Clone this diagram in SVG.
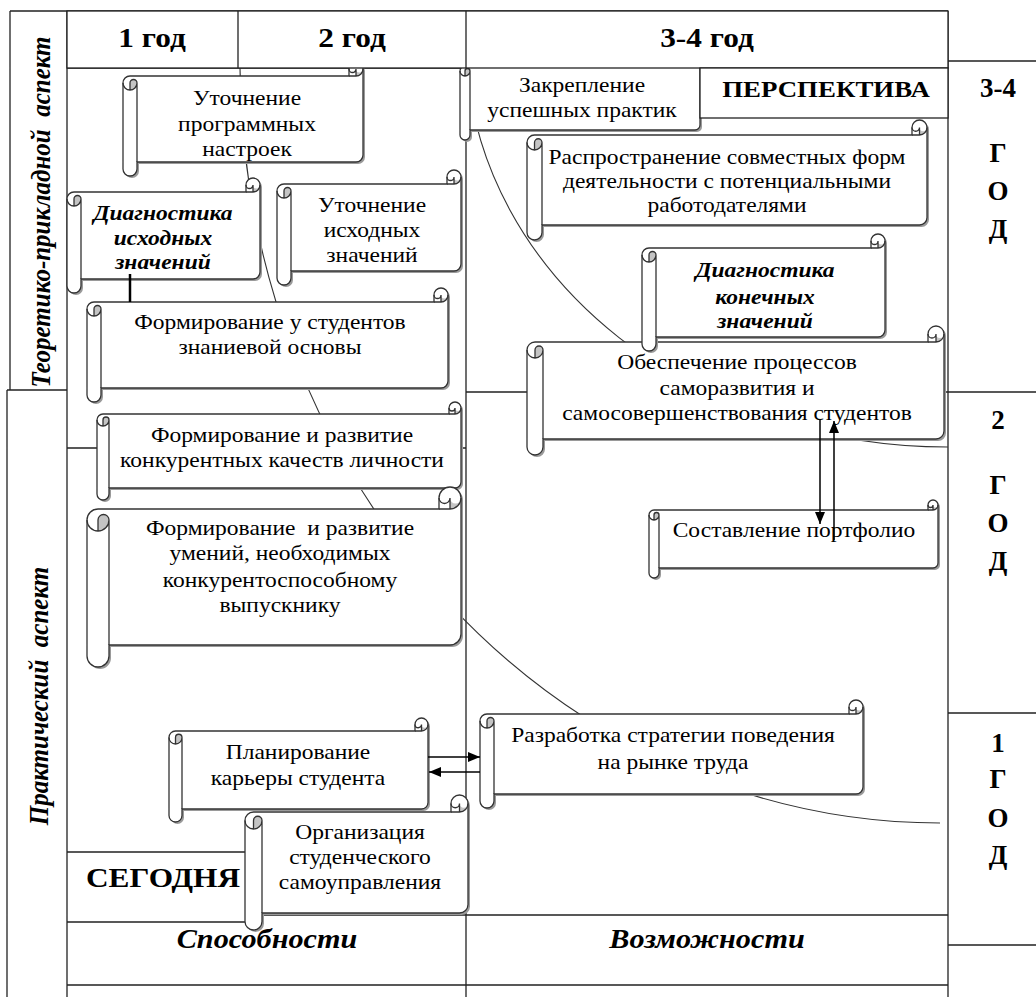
<svg xmlns="http://www.w3.org/2000/svg" xmlns:xlink="http://www.w3.org/1999/xlink" width="1036" height="997" viewBox="0 0 1036 997">
<style>
.bg{fill:#fff}
.grid{stroke:#222;stroke-width:1.3;fill:none}
.cell{fill:#fff;stroke:#222;stroke-width:1.3}
.curve{stroke:#333;stroke-width:1.1;fill:none}
.sh{fill:#9a9a9a}
.sc{fill:#fff;stroke:#333;stroke-width:1.3}
.sd{fill:none;stroke:#333;stroke-width:1.3}
.dk{fill:#c4c4c4}
.t{font-family:"Liberation Serif","Times New Roman",serif;font-size:21px;fill:#000;text-anchor:middle}
.bi{font-weight:bold;font-style:italic}
.hd{font-family:"Liberation Serif","Times New Roman",serif;font-size:28px;font-weight:bold;fill:#000;text-anchor:middle}
.side{font-family:"Liberation Serif","Times New Roman",serif;font-size:25px;font-weight:bold;font-style:italic;fill:#000;text-anchor:middle}
.arr{stroke:#000;stroke-width:1.5;fill:none}
</style>
<defs>
<marker id="ah" viewBox="0 0 12 10" refX="12" refY="5" markerWidth="12" markerHeight="10" markerUnits="userSpaceOnUse" orient="auto"><path d="M0,0 L12,5 L0,10 Z" fill="#000"/></marker>
<path id="o1" d="M0,21 A7 7 0 0 1 7,14 L226,14 L226,7 A7 7 0 0 1 240,7 L240,93 A7 7 0 0 1 233,100 L14,100 L14,107 A7 7 0 0 1 0,107 Z"/>
<path id="o2" d="M0,21 A7 7 0 0 1 7,14 L179,14 L179,7 A7 7 0 0 1 193,7 L193,94 A7 7 0 0 1 186,101 L14,101 L14,108 A7 7 0 0 1 0,108 Z"/>
<path id="o3" d="M0,21 A7 7 0 0 1 7,14 L170,14 L170,7 A7 7 0 0 1 184,7 L184,94 A7 7 0 0 1 177,101 L14,101 L14,108 A7 7 0 0 1 0,108 Z"/>
<path id="o4" d="M0,21 A7 7 0 0 1 7,14 L347,14 L347,7 A7 7 0 0 1 361,7 L361,93 A7 7 0 0 1 354,100 L14,100 L14,107 A7 7 0 0 1 0,107 Z"/>
<path id="o5" d="M0,18 A6 6 0 0 1 6,12 L352,12 L352,6 A6 6 0 0 1 364,6 L364,80 A6 6 0 0 1 358,86 L12,86 L12,92 A6 6 0 0 1 0,92 Z"/>
<path id="o6" d="M0,33 A11 11 0 0 1 11,22 L352,22 L352,11 A11 11 0 0 1 374,11 L374,147 A11 11 0 0 1 363,158 L22,158 L22,169 A11 11 0 0 1 0,169 Z"/>
<path id="o7" d="M0,15 A5 5 0 0 1 5,10 L230,10 L230,5 A5 5 0 0 1 240,5 L240,69 A5 5 0 0 1 235,74 L10,74 L10,79 A5 5 0 0 1 0,79 Z"/>
<path id="o8" d="M0,22.5 A7.5 7.5 0 0 1 7.5,15 L385,15 L385,7.5 A7.5 7.5 0 0 1 400,7.5 L400,97.5 A7.5 7.5 0 0 1 392.5,105 L15,105 L15,112.5 A7.5 7.5 0 0 1 0,112.5 Z"/>
<path id="o9" d="M0,21 A7 7 0 0 1 7,14 L229,14 L229,7 A7 7 0 0 1 243,7 L243,96 A7 7 0 0 1 236,103 L14,103 L14,110 A7 7 0 0 1 0,110 Z"/>
<path id="o10" d="M0,24 A8 8 0 0 1 8,16 L401,16 L401,8 A8 8 0 0 1 417,8 L417,105 A8 8 0 0 1 409,113 L16,113 L16,121 A8 8 0 0 1 0,121 Z"/>
<path id="o11" d="M0,15 A5 5 0 0 1 5,10 L279,10 L279,5 A5 5 0 0 1 289,5 L289,63 A5 5 0 0 1 284,68 L10,68 L10,73 A5 5 0 0 1 0,73 Z"/>
<path id="o12" d="M0,21 A7 7 0 0 1 7,14 L369,14 L369,7 A7 7 0 0 1 383,7 L383,87 A7 7 0 0 1 376,94 L14,94 L14,101 A7 7 0 0 1 0,101 Z"/>
<path id="o13" d="M0,19.5 A6.5 6.5 0 0 1 6.5,13 L246,13 L246,6.5 A6.5 6.5 0 0 1 259,6.5 L259,84.5 A6.5 6.5 0 0 1 252.5,91 L13,91 L13,97.5 A6.5 6.5 0 0 1 0,97.5 Z"/>
<path id="o14" d="M0,25.5 A8.5 8.5 0 0 1 8.5,17 L206,17 L206,8.5 A8.5 8.5 0 0 1 223,8.5 L223,109.5 A8.5 8.5 0 0 1 214.5,118 L17,118 L17,126.5 A8.5 8.5 0 0 1 0,126.5 Z"/>
</defs>
<rect class="bg" x="0" y="0" width="1036" height="997"/>

<g id="grid">
<path class="grid" d="M10,11 H948 M10,11 V390 M7,390 H67 M7,390 V997 M67,11 V997 M238,11 V68 M466,11 V997 M948,11 V997 M67,68 H948 M948,61 H1036 M466,392 H1036 M948,713 H1036 M948,945 H1036 M67,448 H466 M67,852 H245 M67,922 H245 M245,915 H948 M67,985 H948"/>
</g>

<g id="curves">
<path class="curve" d="M240,68 A700 763 0 0 0 940,823"/>
<path class="curve" d="M467,68 A482 407 0 0 0 948,447"/>
</g>

<g id="node-utochnenie-programm">
<g transform="translate(123 62)">
<use xlink:href="#o1" class="sh" x="2" y="2"/><use xlink:href="#o1" class="sc"/>
<path class="dk" d="M233,14 A7 7 0 0 0 240,7 A3.5 3.5 0 0 1 233,7 Z M7,28 A7 7 0 0 0 14,21 A3.5 3.5 0 0 0 7,21 Z"/>
<path class="sd" d="M226,14 L233,14 A7 7 0 0 0 240,7 M233,14 L233,7 A3.5 3.5 0 0 1 226,7 M7,28 L7,21 A3.5 3.5 0 0 1 14,21 A7 7 0 0 1 0,21 M14,21 L14,100"/>
</g>
<text class="t" transform="translate(247 0) scale(1.12 1)"><tspan x="0" y="105">Уточнение</tspan><tspan x="0" y="131">программных</tspan><tspan x="0" y="156">настроек</tspan></text>
</g>

<g id="node-diagnostika-ishod">
<g transform="translate(67 178)">
<use xlink:href="#o2" class="sh" x="2" y="2"/><use xlink:href="#o2" class="sc"/>
<path class="dk" d="M186,14 A7 7 0 0 0 193,7 A3.5 3.5 0 0 1 186,7 Z M7,28 A7 7 0 0 0 14,21 A3.5 3.5 0 0 0 7,21 Z"/>
<path class="sd" d="M179,14 L186,14 A7 7 0 0 0 193,7 M186,14 L186,7 A3.5 3.5 0 0 1 179,7 M7,28 L7,21 A3.5 3.5 0 0 1 14,21 A7 7 0 0 1 0,21 M14,21 L14,101"/>
</g>
<text class="t bi" transform="translate(163 0) scale(1.12 1)"><tspan x="0" y="220">Диагностика</tspan><tspan x="0" y="245">исходных</tspan><tspan x="0" y="269">значений</tspan></text>
</g>

<g id="node-utochnenie-ishod">
<g transform="translate(277 170)">
<use xlink:href="#o3" class="sh" x="2" y="2"/><use xlink:href="#o3" class="sc"/>
<path class="dk" d="M177,14 A7 7 0 0 0 184,7 A3.5 3.5 0 0 1 177,7 Z M7,28 A7 7 0 0 0 14,21 A3.5 3.5 0 0 0 7,21 Z"/>
<path class="sd" d="M170,14 L177,14 A7 7 0 0 0 184,7 M177,14 L177,7 A3.5 3.5 0 0 1 170,7 M7,28 L7,21 A3.5 3.5 0 0 1 14,21 A7 7 0 0 1 0,21 M14,21 L14,101"/>
</g>
<text class="t" transform="translate(372 0) scale(1.12 1)"><tspan x="0" y="212">Уточнение</tspan><tspan x="0" y="237">исходных</tspan><tspan x="0" y="262">значений</tspan></text>
</g>

<g id="node-znanievaya-osnova">
<g transform="translate(87 288)">
<use xlink:href="#o4" class="sh" x="2" y="2"/><use xlink:href="#o4" class="sc"/>
<path class="dk" d="M354,14 A7 7 0 0 0 361,7 A3.5 3.5 0 0 1 354,7 Z M7,28 A7 7 0 0 0 14,21 A3.5 3.5 0 0 0 7,21 Z"/>
<path class="sd" d="M347,14 L354,14 A7 7 0 0 0 361,7 M354,14 L354,7 A3.5 3.5 0 0 1 347,7 M7,28 L7,21 A3.5 3.5 0 0 1 14,21 A7 7 0 0 1 0,21 M14,21 L14,100"/>
</g>
<text class="t" transform="translate(270 0) scale(1.12 1)"><tspan x="0" y="329">Формирование у студентов</tspan><tspan x="0" y="354">знаниевой основы</tspan></text>
</g>

<g id="node-konkurentnye-kachestva">
<g transform="translate(97 402)">
<use xlink:href="#o5" class="sh" x="2" y="2"/><use xlink:href="#o5" class="sc"/>
<path class="dk" d="M358,12 A6 6 0 0 0 364,6 A3 3 0 0 1 358,6 Z M6,24 A6 6 0 0 0 12,18 A3 3 0 0 0 6,18 Z"/>
<path class="sd" d="M352,12 L358,12 A6 6 0 0 0 364,6 M358,12 L358,6 A3 3 0 0 1 352,6 M6,24 L6,18 A3 3 0 0 1 12,18 A6 6 0 0 1 0,18 M12,18 L12,86"/>
</g>
<text class="t" transform="translate(282 0) scale(1.12 1)"><tspan x="0" y="442">Формирование и развитие</tspan><tspan x="0" y="467">конкурентных качеств личности</tspan></text>
</g>

<g id="node-umeniya">
<g transform="translate(87 487)">
<use xlink:href="#o6" class="sh" x="2" y="2"/><use xlink:href="#o6" class="sc"/>
<path class="dk" d="M363,22 A11 11 0 0 0 374,11 A5.5 5.5 0 0 1 363,11 Z M11,44 A11 11 0 0 0 22,33 A5.5 5.5 0 0 0 11,33 Z"/>
<path class="sd" d="M352,22 L363,22 A11 11 0 0 0 374,11 M363,22 L363,11 A5.5 5.5 0 0 1 352,11 M11,44 L11,33 A5.5 5.5 0 0 1 22,33 A11 11 0 0 1 0,33 M22,33 L22,158"/>
</g>
<text class="t" transform="translate(280 0) scale(1.12 1)" xml:space="preserve"><tspan x="0" y="535">Формирование  и развитие</tspan><tspan x="0" y="560">умений, необходимых</tspan><tspan x="0" y="587">конкурентоспособному</tspan><tspan x="0" y="612">выпускнику</tspan></text>
</g>

<g id="node-zakreplenie">
<g transform="translate(460 56)">
<use xlink:href="#o7" class="sh" x="2" y="2"/><use xlink:href="#o7" class="sc"/>
<path class="dk" d="M235,10 A5 5 0 0 0 240,5 A2.5 2.5 0 0 1 235,5 Z M5,20 A5 5 0 0 0 10,15 A2.5 2.5 0 0 0 5,15 Z"/>
<path class="sd" d="M230,10 L235,10 A5 5 0 0 0 240,5 M235,10 L235,5 A2.5 2.5 0 0 1 230,5 M5,20 L5,15 A2.5 2.5 0 0 1 10,15 A5 5 0 0 1 0,15 M10,15 L10,74"/>
</g>
<text class="t" transform="translate(582 0) scale(1.12 1)"><tspan x="0" y="92">Закрепление</tspan><tspan x="0" y="117">успешных практик</tspan></text>
</g>

<g id="node-rasprostranenie">
<g transform="translate(527 120)">
<use xlink:href="#o8" class="sh" x="2" y="2"/><use xlink:href="#o8" class="sc"/>
<path class="dk" d="M392.5,15 A7.5 7.5 0 0 0 400,7.5 A3.75 3.75 0 0 1 392.5,7.5 Z M7.5,30 A7.5 7.5 0 0 0 15,22.5 A3.75 3.75 0 0 0 7.5,22.5 Z"/>
<path class="sd" d="M385,15 L392.5,15 A7.5 7.5 0 0 0 400,7.5 M392.5,15 L392.5,7.5 A3.75 3.75 0 0 1 385,7.5 M7.5,30 L7.5,22.5 A3.75 3.75 0 0 1 15,22.5 A7.5 7.5 0 0 1 0,22.5 M15,22.5 L15,105"/>
</g>
<text class="t" transform="translate(727 0) scale(1.12 1)"><tspan x="0" y="164">Распространение совместных форм</tspan><tspan x="0" y="188">деятельности с потенциальными</tspan><tspan x="0" y="212">работодателями</tspan></text>
</g>

<g id="node-obespechenie">
<g transform="translate(527 326)">
<use xlink:href="#o10" class="sh" x="2" y="2"/><use xlink:href="#o10" class="sc"/>
<path class="dk" d="M409,16 A8 8 0 0 0 417,8 A4 4 0 0 1 409,8 Z M8,32 A8 8 0 0 0 16,24 A4 4 0 0 0 8,24 Z"/>
<path class="sd" d="M401,16 L409,16 A8 8 0 0 0 417,8 M409,16 L409,8 A4 4 0 0 1 401,8 M8,32 L8,24 A4 4 0 0 1 16,24 A8 8 0 0 1 0,24 M16,24 L16,113"/>
</g>
<text class="t" transform="translate(737 0) scale(1.12 1)"><tspan x="0" y="369">Обеспечение процессов</tspan><tspan x="0" y="395">саморазвития и</tspan><tspan x="0" y="420">самосовершенствования студентов</tspan></text>
</g>

<g id="node-diagnostika-konech">
<g transform="translate(642 234)">
<use xlink:href="#o9" class="sh" x="2" y="2"/><use xlink:href="#o9" class="sc"/>
<path class="dk" d="M236,14 A7 7 0 0 0 243,7 A3.5 3.5 0 0 1 236,7 Z M7,28 A7 7 0 0 0 14,21 A3.5 3.5 0 0 0 7,21 Z"/>
<path class="sd" d="M229,14 L236,14 A7 7 0 0 0 243,7 M236,14 L236,7 A3.5 3.5 0 0 1 229,7 M7,28 L7,21 A3.5 3.5 0 0 1 14,21 A7 7 0 0 1 0,21 M14,21 L14,103"/>
</g>
<text class="t bi" transform="translate(765 0) scale(1.12 1)"><tspan x="0" y="277">Диагностика</tspan><tspan x="0" y="304">конечных</tspan><tspan x="0" y="328">значений</tspan></text>
</g>

<g id="node-portfolio">
<g transform="translate(649 500)">
<use xlink:href="#o11" class="sh" x="2" y="2"/><use xlink:href="#o11" class="sc"/>
<path class="dk" d="M284,10 A5 5 0 0 0 289,5 A2.5 2.5 0 0 1 284,5 Z M5,20 A5 5 0 0 0 10,15 A2.5 2.5 0 0 0 5,15 Z"/>
<path class="sd" d="M279,10 L284,10 A5 5 0 0 0 289,5 M284,10 L284,5 A2.5 2.5 0 0 1 279,5 M5,20 L5,15 A2.5 2.5 0 0 1 10,15 A5 5 0 0 1 0,15 M10,15 L10,68"/>
</g>
<text class="t" transform="translate(794 0) scale(1.12 1)"><tspan x="0" y="537">Составление портфолио</tspan></text>
</g>

<g id="node-strategiya">
<g transform="translate(480 700)">
<use xlink:href="#o12" class="sh" x="2" y="2"/><use xlink:href="#o12" class="sc"/>
<path class="dk" d="M376,14 A7 7 0 0 0 383,7 A3.5 3.5 0 0 1 376,7 Z M7,28 A7 7 0 0 0 14,21 A3.5 3.5 0 0 0 7,21 Z"/>
<path class="sd" d="M369,14 L376,14 A7 7 0 0 0 383,7 M376,14 L376,7 A3.5 3.5 0 0 1 369,7 M7,28 L7,21 A3.5 3.5 0 0 1 14,21 A7 7 0 0 1 0,21 M14,21 L14,94"/>
</g>
<text class="t" transform="translate(673 0) scale(1.12 1)"><tspan x="0" y="742">Разработка стратегии поведения</tspan><tspan x="0" y="769">на рынке труда</tspan></text>
</g>

<g id="node-planirovanie">
<g transform="translate(169 718)">
<use xlink:href="#o13" class="sh" x="2" y="2"/><use xlink:href="#o13" class="sc"/>
<path class="dk" d="M252.5,13 A6.5 6.5 0 0 0 259,6.5 A3.25 3.25 0 0 1 252.5,6.5 Z M6.5,26 A6.5 6.5 0 0 0 13,19.5 A3.25 3.25 0 0 0 6.5,19.5 Z"/>
<path class="sd" d="M246,13 L252.5,13 A6.5 6.5 0 0 0 259,6.5 M252.5,13 L252.5,6.5 A3.25 3.25 0 0 1 246,6.5 M6.5,26 L6.5,19.5 A3.25 3.25 0 0 1 13,19.5 A6.5 6.5 0 0 1 0,19.5 M13,19.5 L13,91"/>
</g>
<text class="t" transform="translate(298 0) scale(1.12 1)"><tspan x="0" y="759">Планирование</tspan><tspan x="0" y="785">карьеры студента</tspan></text>
</g>

<g id="node-samoupravlenie">
<g transform="translate(245 795)">
<use xlink:href="#o14" class="sh" x="2" y="2"/><use xlink:href="#o14" class="sc"/>
<path class="dk" d="M214.5,17 A8.5 8.5 0 0 0 223,8.5 A4.25 4.25 0 0 1 214.5,8.5 Z M8.5,34 A8.5 8.5 0 0 0 17,25.5 A4.25 4.25 0 0 0 8.5,25.5 Z"/>
<path class="sd" d="M206,17 L214.5,17 A8.5 8.5 0 0 0 223,8.5 M214.5,17 L214.5,8.5 A4.25 4.25 0 0 1 206,8.5 M8.5,34 L8.5,25.5 A4.25 4.25 0 0 1 17,25.5 A8.5 8.5 0 0 1 0,25.5 M17,25.5 L17,118"/>
</g>
<text class="t" transform="translate(360 0) scale(1.12 1)"><tspan x="0" y="839">Организация</tspan><tspan x="0" y="864">студенческого</tspan><tspan x="0" y="889">самоуправления</tspan></text>
</g>

<g id="header">
<rect class="cell" x="67" y="11" width="881" height="57"/>
<path class="grid" d="M238,11 V68 M466,11 V68"/>
<text class="hd" transform="translate(152 0) scale(1.12 1)"><tspan x="0" y="47">1 год</tspan></text>
<text class="hd" transform="translate(352 0) scale(1.12 1)"><tspan x="0" y="47">2 год</tspan></text>
<text class="hd" transform="translate(707 0) scale(1.12 1)"><tspan x="0" y="47">3-4 год</tspan></text>
</g>

<g id="perspektiva">
<rect class="cell" x="700" y="68" width="248" height="50"/>
<text class="hd" style="font-size:24px" transform="translate(826 0) scale(1.12 1)"><tspan x="0" y="97">ПЕРСПЕКТИВА</tspan></text>
</g>

<g id="connectors">
<line class="arr" x1="428" y1="757" x2="480" y2="757" marker-end="url(#ah)"/>
<line class="arr" x1="480" y1="772" x2="429" y2="772" marker-end="url(#ah)"/>
<line class="arr" x1="820" y1="420" x2="820" y2="524" marker-end="url(#ah)"/>
<line class="arr" x1="834" y1="540" x2="834" y2="421" marker-end="url(#ah)"/>
<line x1="130" y1="274" x2="130" y2="302" stroke="#000" stroke-width="2.5"/>
</g>

<g id="labels">
<text class="side" transform="translate(50 212) scale(1.12 1) rotate(-90)" xml:space="preserve">Теоретико-прикладной  аспект</text>
<text class="side" transform="translate(48 696) scale(1.12 1) rotate(-90)" xml:space="preserve">Практический  аспект</text>
<text class="hd" transform="translate(163 0) scale(1.12 1)"><tspan x="0" y="887">СЕГОДНЯ</tspan></text>
<text class="hd" style="font-style:italic;font-size:27px" transform="translate(267 0) scale(1.12 1)"><tspan x="0" y="948">Способности</tspan></text>
<text class="hd" style="font-style:italic;font-size:27px" transform="translate(707 0) scale(1.12 1)"><tspan x="0" y="948">Возможности</tspan></text>
<g class="hd" style="font-size:27px">
<text x="998" y="97">3-4</text>
<text x="998" y="162">Г</text>
<text x="998" y="200">О</text>
<text x="998" y="238">Д</text>
<text x="998" y="429">2</text>
<text x="998" y="494">Г</text>
<text x="998" y="532">О</text>
<text x="998" y="570">Д</text>
<text x="998" y="752">1</text>
<text x="998" y="788">Г</text>
<text x="998" y="827">О</text>
<text x="998" y="864">Д</text>
</g>
</g>
</svg>
